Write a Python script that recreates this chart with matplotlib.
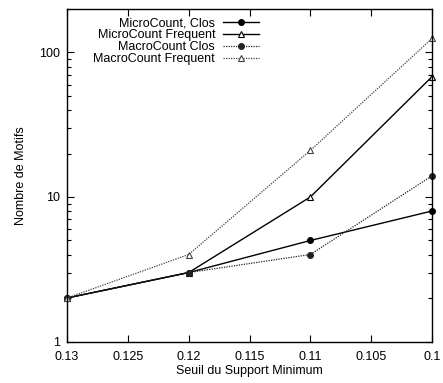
import matplotlib
matplotlib.use("Agg")
import matplotlib.pyplot as plt
from matplotlib.ticker import FixedLocator, FuncFormatter, LogLocator, NullFormatter

plt.rcParams['font.family'] = ['Liberation Sans', 'DejaVu Sans']

support = [0.13, 0.12, 0.11, 0.10]
micro_clos = [2, 3, 5, 8]
micro_freq = [2, 3, 10, 68]
macro_clos = [2, 3, 4, 14]
macro_freq = [2, 4, 21, 125]
labels = ["MicroCount, Clos", "MicroCount Frequent", "MacroCount Clos", "MacroCount Frequent"]
xticks = [0.13, 0.125, 0.12, 0.115, 0.11, 0.105, 0.1]

fig = plt.figure(figsize=(4.43, 3.83), dpi=100)
ax = fig.add_axes([67/443, 1-341.5/383, (432-67)/443, (341.5-9)/383])

dot = (0, (1, 1))
ax.plot(support, micro_clos, color='black', lw=1.0, marker='o', ms=4, label=labels[0], clip_on=False)
ax.plot(support, micro_freq, color='black', lw=1.0, marker='^', ms=4, mfc='white', mew=0.8, label=labels[1], clip_on=False)
ax.plot(support, macro_clos, color='#222222', lw=0.9, ls=dot, marker='o', ms=4, label=labels[2], clip_on=False)
ax.plot(support, macro_freq, color='#444444', lw=0.9, ls=dot, marker='^', ms=4, mfc='white', mew=0.8, label=labels[3], clip_on=False)

ax.set_yscale('log')
ax.set_xlim(0.13, 0.1)
ax.set_ylim(1, 200)
ax.xaxis.set_major_locator(FixedLocator(xticks))
ax.xaxis.set_major_formatter(FuncFormatter(lambda v, p: '%g' % v))
ax.yaxis.set_major_locator(LogLocator(base=10, numticks=10))
ax.yaxis.set_major_formatter(FuncFormatter(lambda v, p: '%g' % v))
ax.yaxis.set_minor_locator(LogLocator(base=10, subs=range(2, 10), numticks=10))
ax.yaxis.set_minor_formatter(NullFormatter())
ax.tick_params(which='both', direction='in', top=True, right=True, labelsize=9, width=0.8)
ax.tick_params(axis='x', which='major', length=5, pad=7)
ax.tick_params(axis='y', which='major', length=5, pad=5)
ax.tick_params(which='minor', length=3)
for s in ax.spines.values():
    s.set_linewidth(1.0)

ax.set_xlabel("Seuil du Support Minimum", fontsize=9, labelpad=1)
ax.set_ylabel("Nombre de Motifs", fontsize=9, labelpad=9)

ax.legend(loc='upper left', bbox_to_anchor=(0.05, 1.0), frameon=False, markerfirst=False,
          fontsize=9, handlelength=2.9, handletextpad=0.6, labelspacing=0.0, borderaxespad=0.25)

fig.savefig("out.png", dpi=100)
